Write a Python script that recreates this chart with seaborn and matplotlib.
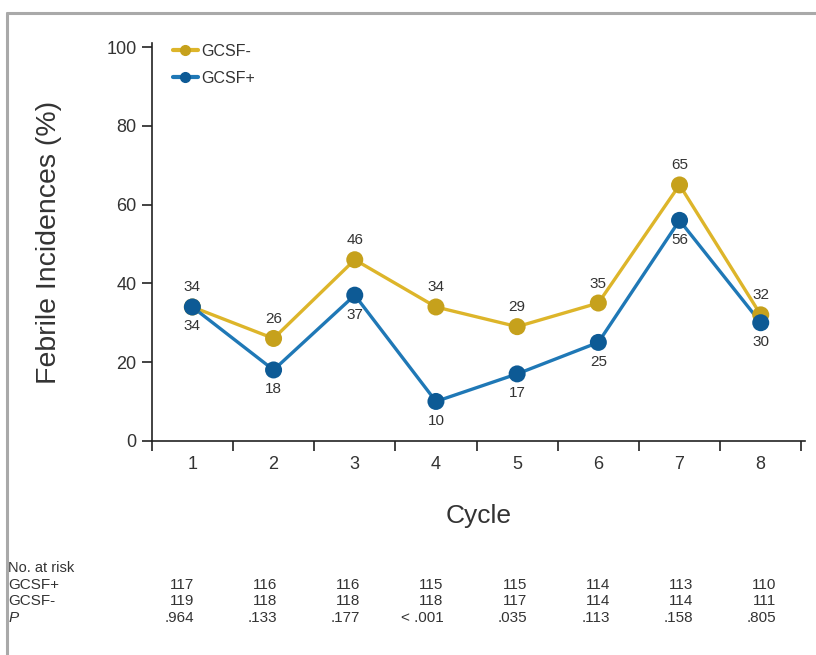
import numpy as np
import pandas as pd
import matplotlib
matplotlib.use("Agg")
import matplotlib.pyplot as plt
from matplotlib.lines import Line2D
import seaborn as sns

# data
cycles = [1, 2, 3, 4, 5, 6, 7, 8]
gcsf_minus = [34, 26, 46, 34, 29, 35, 65, 32]
gcsf_plus = [34, 18, 37, 10, 17, 25, 56, 30]
risk_plus = ["117", "116", "116", "115", "115", "114", "113", "110"]
risk_minus = ["119", "118", "118", "118", "117", "114", "114", "111"]
p_values = [".964", ".133", ".177", "< .001", ".035", ".113", ".158", ".805"]

gold_line, gold_mark = "#DDB52A", "#C6A11C"
blue_line, blue_mark = "#1F78B6", "#0D5A95"
txt = "#333333"

sns.set_style("white")
plt.rcParams["font.family"] = ["Liberation Sans", "DejaVu Sans"]

df = pd.DataFrame({
    "Cycle": cycles * 2,
    "Incidence": gcsf_minus + gcsf_plus,
    "Group": ["GCSF-"] * 8 + ["GCSF+"] * 8,
})

fig = plt.figure(figsize=(8.16, 6.55), dpi=100)
ax = fig.add_axes([0.186, 0.327, 0.801, 0.607])

sns.lineplot(data=df, x="Cycle", y="Incidence", hue="Group",
             palette={"GCSF-": gold_line, "GCSF+": blue_line},
             linewidth=2.4, ax=ax, legend=False)
ax.scatter(cycles, gcsf_minus, s=150, color=gold_mark, zorder=3, edgecolor="none")
ax.scatter(cycles, gcsf_plus, s=150, color=blue_mark, zorder=4, edgecolor="none")

for c, v in zip(cycles, gcsf_minus):
    ax.annotate(str(v), (c, v), xytext=(0, 9), textcoords="offset points",
                ha="center", va="bottom", fontsize=11, color=txt)
for c, v in zip(cycles, gcsf_plus):
    ax.annotate(str(v), (c, v), xytext=(0, -9), textcoords="offset points",
                ha="center", va="top", fontsize=11, color=txt)

ax.set_xlim(0.5, 8.55)
ax.set_ylim(0, 101)
ax.set_yticks([0, 20, 40, 60, 80, 100])
ax.set_xticks(cycles)
ax.set_xticks(np.arange(0.5, 9, 1), minor=True)
ax.tick_params(axis="x", which="major", bottom=True, length=0, pad=11,
               labelsize=13, labelcolor=txt)
ax.tick_params(axis="x", which="minor", bottom=True, length=7, width=1.2,
               direction="out", color="#222222")
ax.tick_params(axis="y", left=True, length=7, width=1.2, direction="out", labelsize=13,
               labelcolor=txt, color="#222222", pad=4)
for s in ["top", "right"]:
    ax.spines[s].set_visible(False)
for s in ["left", "bottom"]:
    ax.spines[s].set_color("#222222")
    ax.spines[s].set_linewidth(1.2)

ax.set_xlabel("Cycle", fontsize=19, color=txt, labelpad=22)
ax.set_ylabel("Febrile Incidences (%)", fontsize=20.5, color=txt, labelpad=32)

handles = [
    Line2D([], [], color=gold_line, lw=3, marker="o", markersize=7,
           markerfacecolor=gold_mark, markeredgecolor=gold_mark),
    Line2D([], [], color=blue_line, lw=3, marker="o", markersize=7,
           markerfacecolor=blue_mark, markeredgecolor=blue_mark),
]
ax.legend(handles, ["GCSF-", "GCSF+"], loc="upper left", bbox_to_anchor=(0.01, 1.035),
          frameon=False, fontsize=11.5, handlelength=1.6, handletextpad=0.2,
          labelspacing=0.75, labelcolor=txt)

# risk table
rows = [("GCSF+", risk_plus, 0.107), ("GCSF-", risk_minus, 0.082), ("P", p_values, 0.057)]
fig.text(0.010, 0.133, "No. at risk", fontsize=10.5, color=txt, va="center")
for name, vals, y in rows:
    fig.text(0.010, y, name, fontsize=11, color=txt, va="center",
             style="italic" if name == "P" else "normal")
    for i, v in enumerate(vals):
        fig.text((194 + i * 83.2) / 816, y, v, fontsize=11, color=txt,
                 va="center", ha="right")

# gray frame around the figure (top and left edges visible)
fig.add_artist(Line2D([7 / 816, 7 / 816], [0, 1 - 13 / 655], transform=fig.transFigure,
                      color="#a9a9a9", lw=2.2))
fig.add_artist(Line2D([7 / 816, 1], [1 - 13 / 655, 1 - 13 / 655], transform=fig.transFigure,
                      color="#a9a9a9", lw=2.2))

fig.savefig("out.png", dpi=100)
